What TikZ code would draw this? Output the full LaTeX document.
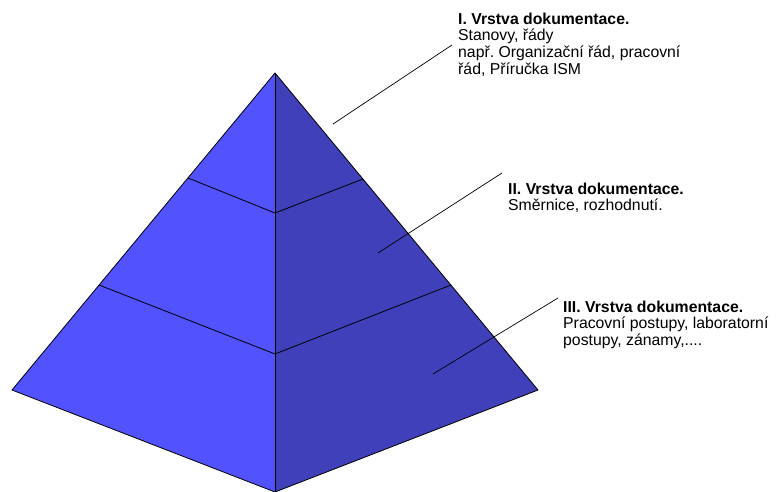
\documentclass[tikz,border=0pt]{standalone}
\usepackage{fontspec}
\setmainfont{Liberation Sans}
\usepackage{xcolor}
\definecolor{faceleft}{RGB}{82,82,255}
\definecolor{faceright}{RGB}{64,64,186}
\usetikzlibrary{positioning}
\frenchspacing

\begin{document}
\begin{tikzpicture}[x=1pt, y=-1pt, line join=round,
    edge/.style={black, line width=0.8pt},
    leader/.style={black, line width=0.7pt},
    layertext/.style={anchor=north west, align=left, inner sep=0pt,
      font=\fontsize{15.8}{16.7}\selectfont}]
\useasboundingbox (0,0) rectangle (777,492);
% pyramid corners
\coordinate (apex) at (275,73);
\coordinate (left) at (12,390);
\coordinate (bottom) at (275,492);
\coordinate (right) at (538,390);
% layer borders
\coordinate (l1) at (188,178); \coordinate (m1) at (275,213); \coordinate (r1) at (363,179);
\coordinate (l2) at (99,285);  \coordinate (m2) at (275,354); \coordinate (r2) at (451,285);
% faces
\fill[faceleft] (apex) -- (left) -- (bottom) -- cycle;
\fill[faceright] (apex) -- (bottom) -- (right) -- cycle;
\draw[edge] (apex) -- (left) -- (bottom) -- (right) -- cycle;
\draw[edge] (apex) -- (bottom);
\draw[edge] (l1) -- (m1) -- (r1);
\draw[edge] (l2) -- (m2) -- (r2);
% texts
\node[layertext] (layerA) at (458,12.5)
   {\textbf{I. Vrstva dokumentace.}\\Stanovy, řády\\např. Organizační řád, pracovní\\řád, Příručka ISM};
\node[layertext] (layerB) at (508,182.5)
   {\textbf{II. Vrstva dokumentace.}\\Směrnice, rozhodnutí.};
\node[layertext] (layerC) at (563,300.5)
   {\textbf{III. Vrstva dokumentace.}\\Pracovní postupy, laboratorní\\postupy, zánamy,....};
% leaders
\coordinate (tipA) at (333,124); \coordinate (endA) at (452,45);
\coordinate (tipB) at (378,253); \coordinate (endB) at (502,173);
\coordinate (tipC) at (433,374); \coordinate (endC) at (558,298);
\draw[leader] (tipA) -- (endA);
\draw[leader] (tipB) -- (endB);
\draw[leader] (tipC) -- (endC);
\end{tikzpicture}
\end{document}
